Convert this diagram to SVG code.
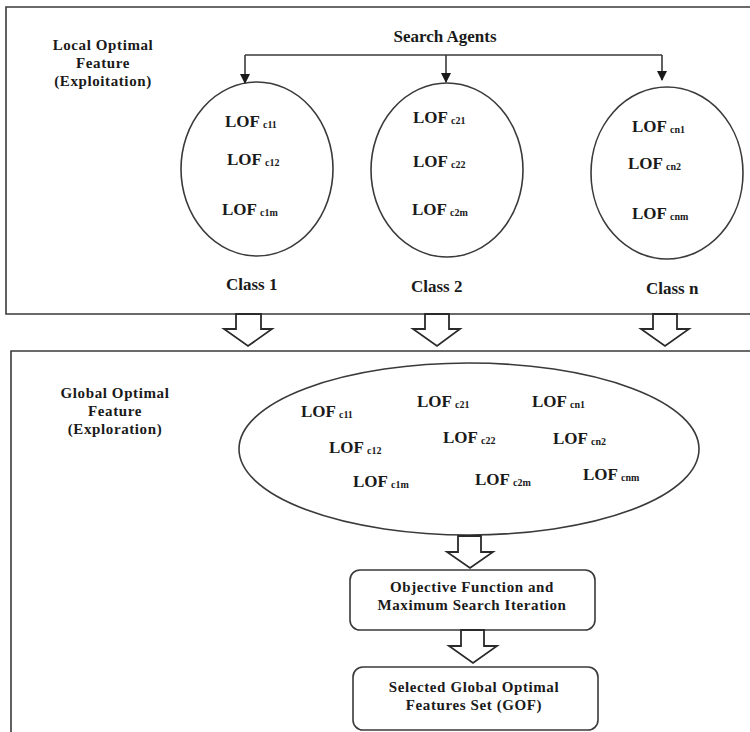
<svg xmlns="http://www.w3.org/2000/svg" width="750" height="732" viewBox="0 0 750 732">
<defs>
<style>
.t{font-family:"Liberation Serif","Times New Roman",serif;font-weight:bold;font-size:17px;fill:#1a1a1a}
.m{font-size:15px;letter-spacing:0.6px}
.c{text-anchor:middle}
.s{font-size:10px}
.ln{fill:none;stroke:#3a3a3a;stroke-width:1.6}
.ha{fill:#fff;stroke:#2a2a2a;stroke-width:1.8;stroke-linejoin:miter}
</style>
<marker id="ah" markerWidth="10" markerHeight="10" refX="9" refY="5" orient="auto" markerUnits="userSpaceOnUse">
<path d="M0,0 L10,5 L0,10 Z" fill="#1a1a1a"/>
</marker>
</defs>
<rect width="750" height="732" fill="#fff"/>

<g id="local-panel">
<path class="ln" d="M752,7 H6 V314 H752"/>
<text class="t m c" x="103" y="50">Local Optimal</text>
<text class="t m c" x="103" y="68">Feature</text>
<text class="t m c" x="103" y="86">(Exploitation)</text>
</g>

<g id="search-agents">
<text class="t c" x="445" y="42">Search Agents</text>
</g>

<g id="class1">
<ellipse class="ln" cx="257" cy="169" rx="76" ry="87"/>
<text class="t" x="225" y="127">LOF<tspan class="s" dx="3" dy="1">c11</tspan></text>
<text class="t" x="227" y="165">LOF<tspan class="s" dx="3" dy="1">c12</tspan></text>
<text class="t" x="222" y="215">LOF<tspan class="s" dx="3" dy="1">c1m</tspan></text>
<text class="t" x="226" y="290">Class 1</text>
</g>

<g id="class2">
<ellipse class="ln" cx="447" cy="170" rx="76" ry="87"/>
<text class="t" x="413" y="123">LOF<tspan class="s" dx="3" dy="1">c21</tspan></text>
<text class="t" x="413" y="167">LOF<tspan class="s" dx="3" dy="1">c22</tspan></text>
<text class="t" x="412" y="215">LOF<tspan class="s" dx="3" dy="1">c2m</tspan></text>
<text class="t" x="411" y="292">Class 2</text>
</g>

<g id="classn">
<ellipse class="ln" cx="667" cy="173" rx="76" ry="86"/>
<text class="t" x="632" y="132">LOF<tspan class="s" dx="3" dy="1">cn1</tspan></text>
<text class="t" x="628" y="169">LOF<tspan class="s" dx="3" dy="1">cn2</tspan></text>
<text class="t" x="632" y="219">LOF<tspan class="s" dx="3" dy="1">cnm</tspan></text>
<text class="t" x="646" y="294">Class n</text>
</g>

<g id="global-panel">
<path class="ln" d="M752,351 H11 V734"/>
<text class="t m c" x="115" y="398">Global Optimal</text>
<text class="t m c" x="115" y="416">Feature</text>
<text class="t m c" x="115" y="434">(Exploration)</text>
</g>

<g id="global-pool">
<ellipse class="ln" cx="469" cy="449" rx="230" ry="86"/>
<text class="t" x="301" y="417">LOF<tspan class="s" dx="3" dy="1">c11</tspan></text>
<text class="t" x="417" y="407">LOF<tspan class="s" dx="3" dy="1">c21</tspan></text>
<text class="t" x="532" y="407">LOF<tspan class="s" dx="3" dy="1">cn1</tspan></text>
<text class="t" x="329" y="453">LOF<tspan class="s" dx="3" dy="1">c12</tspan></text>
<text class="t" x="443" y="443">LOF<tspan class="s" dx="3" dy="1">c22</tspan></text>
<text class="t" x="553" y="444">LOF<tspan class="s" dx="3" dy="1">cn2</tspan></text>
<text class="t" x="353" y="487">LOF<tspan class="s" dx="3" dy="1">c1m</tspan></text>
<text class="t" x="475" y="485">LOF<tspan class="s" dx="3" dy="1">c2m</tspan></text>
<text class="t" x="583" y="480">LOF<tspan class="s" dx="3" dy="1">cnm</tspan></text>
</g>

<g id="objective">
<rect class="ln" x="350" y="570" width="245" height="60" rx="10"/>
<text class="t m c" x="472" y="592">Objective Function and</text>
<text class="t m c" x="472" y="610">Maximum Search Iteration</text>
</g>

<g id="gof">
<rect class="ln" x="353" y="667" width="245" height="63" rx="10"/>
<text class="t m c" x="474" y="692">Selected Global Optimal</text>
<text class="t m c" x="474" y="710">Features Set (GOF)</text>
</g>

<g id="connectors">
<path class="ln" d="M245,55 H662"/>
<path class="ln" d="M245,55 V83" marker-end="url(#ah)"/>
<path class="ln" d="M446,55 V82" marker-end="url(#ah)"/>
<path class="ln" d="M662,55 V80" marker-end="url(#ah)"/>
<polygon class="ha" points="236,314 261,314 261,329 272,329 248,346 224,329 236,329"/>
<polygon class="ha" points="425,314 449,314 449,329 460,329 437,346 413,329 425,329"/>
<polygon class="ha" points="653,314 677,314 677,329 689,329 665,346 641,329 653,329"/>
<polygon class="ha" points="458,536 481,536 481,552 493,552 470,568 447,552 458,552"/>
<polygon class="ha" points="461,630 484,630 484,646 497,646 473,663 449,646 461,646"/>
</g>
</svg>
